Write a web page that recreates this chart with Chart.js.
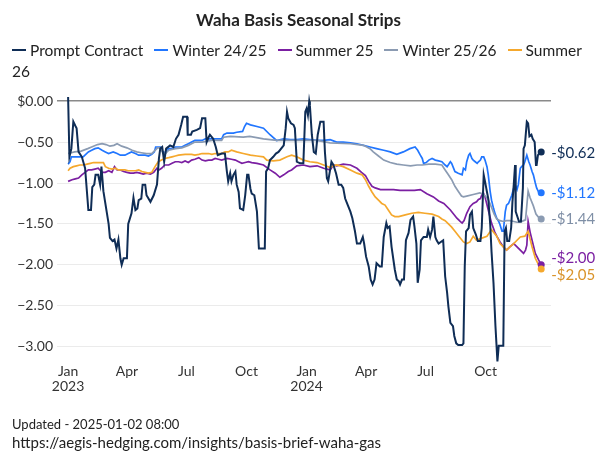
<!DOCTYPE html>
<html>
<head>
<meta charset="utf-8">
<script src="https://cdn.jsdelivr.net/npm/chart.js@4.4.1/dist/chart.umd.min.js"></script>
<style>
    html, body { margin: 0; padding: 0; background: #fff; }
    body { width: 597px; height: 451px; position: relative; overflow: hidden; font-family: Lato, "Open Sans", sans-serif; color: #222; }
    #chart { position: absolute; left: 0; top: 0; }
    #title { position: absolute; left: 0; top: 9px; width: 597px; text-align: center; font-size: 17px; font-weight: bold; }
    #legend { position: absolute; left: 12px; top: 40px; width: 585px; font-size: 15.5px; line-height: 21px; }
    #legend .item { margin-right: 7px; }
    #legend i { display: inline-block; width: 14px; height: 2px; margin-right: 4px; vertical-align: middle; position: relative; top: -2px; }
    #footer { position: absolute; left: 12px; top: 415px; line-height: 18px; }
    #footer .upd { font-size: 13px; }
    #footer .url { font-size: 15px; }
</style>
</head>
<body>
<canvas id="chart" width="597" height="451"></canvas>
<div id="title">Waha Basis Seasonal Strips</div>
<div id="legend"></div>
<div id="footer">
    <div class="upd">Updated - 2025-01-02 08:00</div>
    <div class="url">https://aegis-hedging.com/insights/basis-brief-waha-gas</div>
</div>
<script>
// x values are days since 2023-01-01
const seriesNames = ['Prompt Contract', 'Winter 24/25', 'Summer 25', 'Winter 25/26', 'Summer 26'];
const seriesColors = ['#0f2d56', '#2176ff', '#7b1fa2', '#8b9bb2', '#f5a82d'];
const labelColors = ['#0f2d56', '#2176ff', '#7b1fa2', '#7f8fa6', '#d9932a'];

const tickDays = [0, 90, 181, 273, 365, 456, 547, 639];
const tickLabels = [['Jan', '2023'], 'Apr', 'Jul', 'Oct', ['Jan', '2024'], 'Apr', 'Jul', 'Oct'];
const yTicks = [0, -0.5, -1, -1.5, -2, -2.5, -3];
const yTickLabels = ['$0.00', '\u22120.50', '\u22121.00', '\u22121.50', '\u22122.00', '\u22122.50', '\u22123.00'];

const promptDays = [0, 2, 5, 8, 11, 13, 16, 21, 26, 31, 35, 37, 40, 42, 46, 49, 51, 54, 59, 62, 64, 68, 71, 74, 77, 80, 82, 85, 90, 92, 97, 100, 103, 106, 108, 112, 114, 118, 120, 126, 131, 136, 139,
    141, 144, 147, 150, 156, 161, 165, 169, 173, 176, 182, 183, 188, 190, 197, 202, 205, 210, 212, 215, 217, 222, 226, 229, 235, 240, 243, 245, 248, 250, 253, 256, 258, 261, 263, 268, 271, 274, 276, 279, 281, 285, 289, 292,
    301, 303, 306, 309, 314, 318, 322, 330, 333, 335, 337, 341, 345, 347, 350, 355, 360, 363, 365, 367, 369, 370, 373, 376, 379, 382, 386, 391, 393, 396, 398, 403, 406, 410, 414, 418, 421, 424, 428, 432, 435, 439, 442,
    447, 451, 453, 456, 460, 463, 466, 469, 472, 477, 480, 483, 487, 489, 492, 495, 500, 503, 506, 508, 511, 514, 517, 521, 524, 528, 530, 533, 535, 538, 540, 544, 549, 551, 554, 557, 559, 562, 564, 567, 574,
    577, 580, 582, 585, 589, 591, 594, 597, 603, 605, 607, 609, 613, 615, 618, 620, 624, 627, 631, 633, 636, 638, 641, 643, 646, 648, 651, 654, 657, 659, 666, 668, 670, 672, 675, 678, 680, 682, 684, 685, 690, 693,
    696, 697, 699, 702, 704, 706, 709, 711, 714, 716, 717, 719, 721, 724];
const promptVals = [0.05, -0.68, -0.58, -0.25, -0.30, -0.33, -0.62, -0.68, -0.82, -1.33, -1.33, -1.05, -1.02, -0.90, -0.90, -1.02, -0.80, -1.10, -1.35, -1.50, -1.67, -1.71, -1.69, -1.80, -1.69, -1.92, -2.00, -1.92, -1.92, -1.50, -1.37, -1.18, -1.33, -1.31, -1.21, -1.19, -1.02, -1.02, -1.15, -1.23, -1.15, -1.02, -0.70,
    -0.58, -0.56, -0.74, -0.58, -0.54, -0.56, -0.46, -0.41, -0.29, -0.19, -0.19, -0.41, -0.41, -0.37, -0.35, -0.33, -0.21, -0.21, -0.50, -0.44, -0.41, -0.46, -0.56, -0.66, -0.64, -0.64, -0.86, -0.98, -0.88, -0.98, -0.90, -0.86, -1.02, -1.11, -1.31, -1.33, -1.15, -0.90, -0.90, -1.07, -1.13, -1.15, -1.35, -1.80,
    -1.80, -0.86, -0.82, -0.72, -0.68, -0.64, -0.62, -0.54, -0.33, -0.13, -0.21, -0.27, -0.29, -0.33, -0.74, -0.76, -0.76, -0.13, -0.09, -0.17, 0.00, -0.05, -0.41, -0.62, -0.64, -0.41, -0.25, -0.25, -0.62, -0.94, -0.98, -0.74, -0.78, -0.88, -1.02, -1.02, -1.06, -1.19, -1.27, -1.35, -1.43, -1.59, -1.74,
    -1.74, -1.66, -1.74, -1.90, -2.02, -2.18, -2.24, -2.18, -1.98, -2.02, -2.02, -1.66, -1.49, -1.55, -1.53, -1.78, -2.06, -2.18, -2.20, -2.24, -2.18, -2.18, -1.70, -1.61, -1.45, -1.41, -1.53, -1.74, -2.22, -2.06, -1.70, -1.66, -1.66, -1.57, -1.66, -1.57, -1.41, -1.66, -1.70, -1.74, -1.70,
    -2.14, -2.34, -2.51, -2.71, -2.75, -2.87, -2.96, -2.98, -2.98, -2.96, -2.02, -1.59, -1.55, -1.39, -1.35, -1.55, -1.63, -1.71, -1.71, -1.55, -0.90, -0.98, -1.11, -1.19, -1.51, -1.84, -2.22, -2.75, -3.18, -2.99, -2.99, -1.59, -1.55, -1.71, -1.71, -1.55, -1.23, -1.02, -0.78, -1.35, -1.47, -1.47,
    -1.06, -0.58, -0.54, -0.25, -0.27, -0.43, -0.41, -0.46, -0.50, -0.78, -0.78, -0.66, -0.64, -0.62];

const winter2425Days = [0, 3, 5, 13, 23, 31, 36, 41, 46, 52, 57, 62, 69, 75, 80, 87, 92, 97, 103, 108, 113, 118, 123, 128, 132, 134, 141, 145, 149, 154, 159, 164, 169, 174, 179, 184, 189, 194, 200, 205, 210, 220, 230, 235, 238, 243, 253, 258, 267, 270, 273, 279, 289, 299, 309, 319, 330, 340, 350, 360, 370, 381, 391, 401, 411, 421, 432, 442, 452, 462, 472, 483, 493, 503, 513, 523,
    531, 535, 539, 542, 544, 548, 552, 557, 562, 567, 572, 577, 580, 585, 587, 592, 597, 603, 605, 608, 610, 613, 615, 618, 620, 623, 626, 628, 631, 633, 636, 638, 641, 643, 646, 648, 651, 654, 656, 659, 661, 664, 666, 669, 671, 674, 677, 679, 682, 684, 687, 689, 692, 694, 697, 699, 702, 705, 707, 710, 712, 715, 717, 720, 724];
const winter2425Vals = [-0.77, -0.74, -0.68, -0.68, -0.68, -0.62, -0.60, -0.58, -0.57, -0.60, -0.62, -0.64, -0.62, -0.64, -0.66, -0.66, -0.64, -0.62, -0.64, -0.66, -0.66, -0.66, -0.67, -0.65, -0.62, -0.56, -0.56, -0.62, -0.63, -0.58, -0.58, -0.56, -0.56, -0.56, -0.54, -0.52, -0.50, -0.48, -0.48, -0.48, -0.46, -0.46, -0.46, -0.46, -0.41, -0.39, -0.39, -0.38, -0.37, -0.31, -0.27, -0.29, -0.31, -0.33, -0.41, -0.48, -0.46, -0.47, -0.47, -0.46, -0.47, -0.48, -0.48, -0.47, -0.50, -0.50, -0.51, -0.52, -0.54, -0.56, -0.58, -0.60, -0.62, -0.65, -0.62, -0.58,
    -0.56, -0.60, -0.66, -0.70, -0.76, -0.75, -0.72, -0.70, -0.72, -0.73, -0.74, -0.78, -0.80, -0.74, -0.76, -0.86, -0.88, -0.90, -0.82, -0.84, -0.74, -0.66, -0.64, -0.70, -0.72, -0.74, -0.76, -0.74, -0.72, -0.68, -0.68, -0.72, -0.80, -0.90, -1.11, -1.21, -1.31, -1.39, -1.43, -1.47, -1.51, -1.59, -1.59, -1.35, -1.27, -1.25, -1.19, -1.15, -1.06, -1.02, -1.08, -1.02, -0.82, -0.80, -0.78, -0.74, -0.66, -0.74, -0.78, -0.86, -0.90, -1.00, -1.06, -1.11, -1.12];

const summer25Days = [0, 6, 11, 16, 21, 26, 31, 36, 41, 46, 52, 57, 62, 67, 71, 75, 80, 85, 90, 95, 100, 105, 110, 115, 120, 126, 131, 136, 139, 143, 148, 154, 159, 164, 169, 174, 179, 184, 189, 194, 200, 205, 210, 215, 220, 225, 230, 235, 243, 250, 256, 261, 266, 271, 276, 281, 289, 299, 309, 317, 324, 330, 337, 342, 350, 360, 370, 381, 391, 401, 406, 411, 421, 432,
    442, 449, 455, 460, 465, 470, 478, 488, 498, 508, 518, 530, 539, 549, 559, 567, 575, 585, 595, 600, 603, 606, 610, 615, 620, 625, 628, 631, 635, 638, 643, 648, 653, 656, 661, 666, 671, 676, 682, 687, 692, 697, 700, 702, 704, 707, 710, 715, 720, 724];
const summer25Vals = [-0.98, -0.96, -0.95, -0.94, -0.90, -0.87, -0.84, -0.84, -0.83, -0.82, -0.87, -0.87, -0.85, -0.87, -0.80, -0.84, -0.84, -0.86, -0.87, -0.88, -0.88, -0.87, -0.88, -0.89, -0.88, -0.89, -0.87, -0.82, -0.84, -0.82, -0.78, -0.78, -0.76, -0.74, -0.74, -0.75, -0.73, -0.75, -0.72, -0.71, -0.69, -0.72, -0.73, -0.72, -0.72, -0.70, -0.71, -0.72, -0.70, -0.71, -0.72, -0.74, -0.76, -0.75, -0.74, -0.75, -0.76, -0.78, -0.84, -0.88, -0.93, -0.90, -0.86, -0.84, -0.79, -0.78, -0.80, -0.79, -0.82, -0.84, -0.78, -0.79, -0.77, -0.78,
    -0.82, -0.87, -0.91, -0.98, -1.04, -1.06, -1.08, -1.08, -1.08, -1.09, -1.09, -1.09, -1.08, -1.13, -1.17, -1.22, -1.25, -1.33, -1.43, -1.47, -1.49, -1.46, -1.37, -1.29, -1.25, -1.23, -1.20, -1.19, -1.11, -1.17, -1.33, -1.49, -1.60, -1.65, -1.72, -1.78, -1.82, -1.78, -1.74, -1.78, -1.82, -1.86, -1.82, -1.76, -1.47, -1.60, -1.70, -1.86, -1.94, -2.00];

const winter2526Days = [0, 10, 20, 30, 36, 45, 52, 58, 64, 70, 75, 82, 90, 98, 105, 112, 120, 128, 133, 137, 141, 145, 149, 154, 164, 174, 184, 194, 205, 220, 235, 238, 248, 268, 278, 299, 319, 350, 381, 401, 432, 452, 462, 467, 475, 483, 493, 503, 513, 524,
    534, 542, 552, 562, 572, 577, 582, 587, 592, 597, 602, 605, 610, 620, 630, 636, 643, 648, 652, 656, 661, 666, 671, 676, 682, 687, 692, 697, 700, 704, 707, 712, 716, 720, 724];
const winter2526Vals = [-0.64, -0.62, -0.61, -0.58, -0.56, -0.53, -0.52, -0.53, -0.55, -0.54, -0.52, -0.55, -0.57, -0.60, -0.62, -0.63, -0.64, -0.64, -0.60, -0.57, -0.57, -0.63, -0.64, -0.60, -0.58, -0.57, -0.54, -0.50, -0.50, -0.48, -0.48, -0.44, -0.43, -0.44, -0.43, -0.46, -0.48, -0.48, -0.48, -0.51, -0.52, -0.54, -0.58, -0.62, -0.67, -0.72, -0.75, -0.77, -0.78, -0.79,
    -0.78, -0.78, -0.77, -0.77, -0.78, -0.84, -0.90, -0.96, -1.04, -1.10, -1.16, -1.17, -1.16, -1.14, -1.12, -1.14, -1.20, -1.30, -1.38, -1.44, -1.46, -1.47, -1.46, -1.46, -1.47, -1.48, -1.48, -1.46, -1.45, -1.10, -1.18, -1.28, -1.38, -1.42, -1.44];

const summer26Days = [0, 3, 8, 13, 18, 24, 29, 34, 39, 44, 49, 54, 57, 62, 67, 72, 77, 82, 87, 92, 97, 103, 108, 113, 118, 123, 128, 133, 138, 143, 148, 154, 159, 164, 169, 179, 189, 194, 200, 205, 215, 220, 225, 235, 240, 245, 250, 258, 268, 279, 289, 299, 304, 314, 324, 335, 342, 350, 360, 370, 381, 391, 401, 406, 411, 421, 432,
    442, 450, 455, 460, 465, 470, 475, 480, 485, 490, 495, 500, 506, 516, 526, 536, 546, 557, 567, 572, 577, 582, 587, 592, 598, 605, 610, 615, 620, 625, 631, 641, 648, 656, 661, 666, 671, 676, 682, 687, 692, 699, 704, 710, 715, 720, 724];
const summer26Vals = [-0.85, -0.82, -0.80, -0.79, -0.78, -0.78, -0.77, -0.76, -0.75, -0.75, -0.75, -0.75, -0.80, -0.82, -0.83, -0.82, -0.84, -0.84, -0.84, -0.85, -0.85, -0.85, -0.84, -0.86, -0.87, -0.88, -0.87, -0.80, -0.74, -0.72, -0.70, -0.69, -0.68, -0.67, -0.66, -0.65, -0.65, -0.66, -0.65, -0.64, -0.64, -0.65, -0.64, -0.64, -0.62, -0.62, -0.60, -0.62, -0.64, -0.66, -0.67, -0.68, -0.72, -0.73, -0.72, -0.68, -0.66, -0.68, -0.72, -0.74, -0.75, -0.78, -0.81, -0.79, -0.78, -0.80, -0.84,
    -0.88, -0.90, -0.96, -1.04, -1.11, -1.17, -1.21, -1.25, -1.27, -1.33, -1.39, -1.41, -1.41, -1.39, -1.37, -1.36, -1.37, -1.38, -1.41, -1.44, -1.46, -1.50, -1.54, -1.59, -1.65, -1.72, -1.74, -1.72, -1.65, -1.70, -1.68, -1.65, -1.57, -1.65, -1.74, -1.78, -1.82, -1.78, -1.74, -1.70, -1.66, -1.65, -1.59, -1.78, -1.92, -2.00, -2.05];

const allDays = [promptDays, winter2425Days, summer25Days, winter2526Days, summer26Days];
const allVals = [promptVals, winter2425Vals, summer25Vals, winter2526Vals, summer26Vals];

// vertical nudges so the end labels don't collide (same order as seriesNames)
const labelNudge = [1, 0, -7, 0, 6];

function fmtEnd(v) {
    return (v < 0 ? '-' : '') + '$' + Math.abs(v).toFixed(2);
}

// html legend (wraps like the original)
document.getElementById('legend').innerHTML = seriesNames.map((n, i) =>
    `<span class="item"><i style="background:${seriesColors[i]}"></i>${n}</span>`
).join(' ');

const datasets = seriesNames.map((name, i) => ({
    label: name,
    data: allDays[i].map((d, j) => ({ x: d, y: allVals[i][j] })),
    borderColor: seriesColors[i],
    backgroundColor: seriesColors[i],
    borderWidth: i === 0 ? 2 : 1.7,
    pointRadius: 0,
    tension: 0,
    fill: false
}));

// prompt on top
const drawOrder = [0, 2, 4, 1, 3];
datasets.forEach((ds, i) => { ds.order = drawOrder[i]; });

const endLabels = {
    id: 'endLabels',
    afterDatasetsDraw(chart) {
        const c = chart.ctx;
        chart.data.datasets.forEach((ds, i) => {
            const meta = chart.getDatasetMeta(i);
            const pt = meta.data[meta.data.length - 1];
            const v = ds.data[ds.data.length - 1].y;
            c.save();
            c.fillStyle = seriesColors[i];
            c.beginPath();
            c.arc(pt.x, pt.y, 3.5, 0, Math.PI * 2);
            c.fill();
            c.fillStyle = labelColors[i];
            c.font = '15px Lato';
            c.textBaseline = 'middle';
            c.textAlign = 'left';
            c.fillText(fmtEnd(v), pt.x + 10, pt.y + labelNudge[i]);
            c.restore();
        });
    }
};

const ctx = document.getElementById('chart').getContext('2d');
new Chart(ctx, {
    type: 'line',
    data: { datasets: datasets },
    options: {
        responsive: false,
        animation: false,
        layout: { padding: { left: 0, right: 46, top: 93, bottom: 48 } },
        plugins: {
            legend: { display: false },
            tooltip: { enabled: false },
            title: { display: false }
        },
        scales: {
            x: {
                type: 'linear',
                min: -17,
                max: 739,
                grid: { display: false, drawTicks: false },
                border: { display: false },
                afterBuildTicks: (s) => { s.ticks = tickDays.map(v => ({ value: v })); },
                afterFit: (s) => { s.height = 40; },
                ticks: {
                    callback: (v, i) => tickLabels[i],
                    font: { family: 'Lato', size: 14, lineHeight: 1.05 },
                    color: '#333',
                    padding: 1,
                    maxRotation: 0,
                    autoSkip: false
                }
            },
            y: {
                min: -3.2,
                max: 0.1,
                afterBuildTicks: (s) => { s.ticks = yTicks.map(v => ({ value: v })); },
                afterFit: (s) => { s.width = 57; },
                grid: {
                    drawTicks: false,
                    color: (c) => c.tick && c.tick.value === 0 ? '#8a8a8a' : '#ebebeb',
                    lineWidth: (c) => c.tick && c.tick.value === 0 ? 1.5 : 1
                },
                border: { display: false },
                ticks: {
                    callback: (v, i) => yTickLabels[i],
                    font: { family: 'Lato', size: 14 },
                    color: '#333',
                    padding: 4
                }
            }
        }
    },
    plugins: [endLabels]
});
</script>
</body>
</html>
